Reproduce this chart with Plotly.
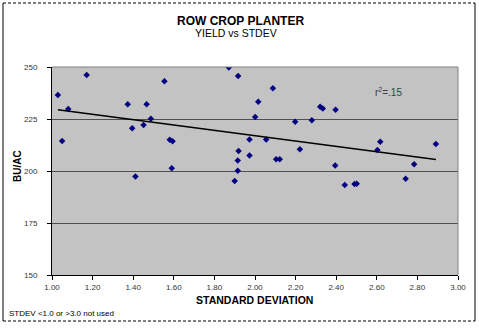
import numpy as np
import plotly.graph_objects as go

# Field observations: standard deviation of planter spacing vs yield (bu/ac)
stdev = [1.029, 1.050, 1.080, 1.171, 1.373, 1.395, 1.411, 1.451, 1.466, 1.487,
         1.554, 1.580, 1.590, 1.594, 1.871, 1.900, 1.915, 1.915, 1.917, 1.919,
         1.973, 1.973, 2.001, 2.016, 2.055, 2.088, 2.104, 2.122, 2.198, 2.221,
         2.280, 2.321, 2.334, 2.397, 2.395, 2.442, 2.490, 2.501, 2.603, 2.617,
         2.742, 2.784, 2.891]
yield_bu = [236.5, 214.4, 229.8, 246.2, 232.1, 220.5, 197.4, 222.1, 232.1, 225.1,
            243.1, 215.0, 201.3, 214.3, 249.7, 195.2, 200.1, 205.0, 245.7, 209.6,
            215.1, 207.5, 226.0, 233.3, 215.2, 239.8, 205.6, 205.6, 223.7, 210.4,
            224.4, 230.9, 230.0, 229.5, 202.6, 193.3, 193.8, 193.9, 210.1, 214.1,
            196.3, 203.2, 213.0]

x_ticks = [1.0, 1.2, 1.4, 1.6, 1.8, 2.0, 2.2, 2.4, 2.6, 2.8, 3.0]
x_tick_labels = ["1.00", "1.20", "1.40", "1.60", "1.80", "2.00",
                 "2.20", "2.40", "2.60", "2.80", "3.00"]
y_ticks = [150, 175, 200, 225, 250]
r2_label = "r<sup>2</sup>=.15"

# Least-squares linear trend over the plotted range
x_arr = np.array(stdev)
y_arr = np.array(yield_bu)
slope, intercept = np.polyfit(x_arr, y_arr, 1)
trend_x = [x_arr.min(), x_arr.max()]
trend_y = [slope * v + intercept for v in trend_x]

FONT = "Arial, Liberation Sans, sans-serif"

fig = go.Figure()
fig.add_trace(go.Scatter(
    x=stdev, y=yield_bu, mode="markers",
    marker=dict(symbol="diamond", size=5, color="#000080", line=dict(width=0)),
    showlegend=False, hoverinfo="x+y"))
fig.add_trace(go.Scatter(
    x=trend_x, y=trend_y, mode="lines",
    line=dict(color="black", width=1.5),
    showlegend=False, hoverinfo="skip"))

fig.update_layout(
    width=479, height=328,
    margin=dict(l=52, r=21, t=67, b=53),
    paper_bgcolor="white",
    plot_bgcolor="#c3c3c3",
    font=dict(family=FONT, size=8, color="#222"),
    xaxis=dict(range=[1.0, 3.0], tickvals=x_ticks, ticktext=x_tick_labels,
               showgrid=False, zeroline=False,
               showline=True, linecolor="#000", linewidth=1,
               ticks="outside", ticklen=4, tickcolor="#000",
               tickfont=dict(size=8, color="#333")),
    yaxis=dict(range=[150, 250], tickvals=y_ticks,
               showgrid=True, gridcolor="#505050", gridwidth=1,
               zeroline=False,
               showline=True, linecolor="#000", linewidth=1,
               ticks="outside", ticklen=4, tickcolor="#000",
               ticklabelstandoff=8,
               tickfont=dict(size=8, color="#333")),
)

# Plot-area frame on the top and right
fig.add_shape(type="line", xref="paper", yref="paper", x0=0, x1=1, y0=1, y1=1,
              line=dict(color="#808080", width=1))
fig.add_shape(type="line", xref="paper", yref="paper", x0=1, x1=1, y0=0, y1=1,
              line=dict(color="#808080", width=1))

# Outer chart border: dashed top/bottom, solid sides
bx0, bx1 = (3 - 52) / 406, (475 - 52) / 406
by_top, by_bot = (275 - 3) / 208, (275 - 321) / 208
fig.add_shape(type="line", xref="paper", yref="paper", x0=bx0, x1=bx1, y0=by_top, y1=by_top,
              line=dict(color="#000", width=1, dash="3px,2px"))
fig.add_shape(type="line", xref="paper", yref="paper", x0=bx0, x1=bx1, y0=by_bot, y1=by_bot,
              line=dict(color="#000", width=1, dash="3px,2px"))
fig.add_shape(type="line", xref="paper", yref="paper", x0=bx0, x1=bx0, y0=by_bot, y1=by_top,
              line=dict(color="#000", width=1))
fig.add_shape(type="line", xref="paper", yref="paper", x0=bx1, x1=bx1, y0=by_bot, y1=by_top,
              line=dict(color="#000", width=1))

def ptext(text, x, y, size, bold=False, angle=0, xanchor="center", color="#000"):
    fig.add_annotation(text=f"<b>{text}</b>" if bold else text,
                       xref="paper", yref="paper", x=x, y=y,
                       xanchor=xanchor, yanchor="middle", showarrow=False,
                       borderpad=0,
                       textangle=angle, font=dict(family=FONT, size=size, color=color))

ptext("ROW CROP PLANTER", (240 - 52) / 406, (275 - 21) / 208, 12, bold=True)
ptext("YIELD vs STDEV", (236 - 52) / 406, (275 - 33) / 208, 10.5)
ptext("STANDARD DEVIATION", (254 - 52) / 406, (275 - 299.5) / 208, 10.5, bold=True)
ptext("BU/AC", (17.5 - 52) / 406, (275 - 166.5) / 208, 10, bold=True, angle=-90)
ptext("STDEV &lt;1.0 or &gt;3.0 not used", (8 - 52) / 406, (275 - 313) / 208, 8,
      xanchor="left")

fig.add_annotation(text=r2_label, x=2.66, y=238, xref="x", yref="y",
                   showarrow=False,
                   font=dict(family=FONT, size=10, color="#404040"))

fig.write_html("out.html")
